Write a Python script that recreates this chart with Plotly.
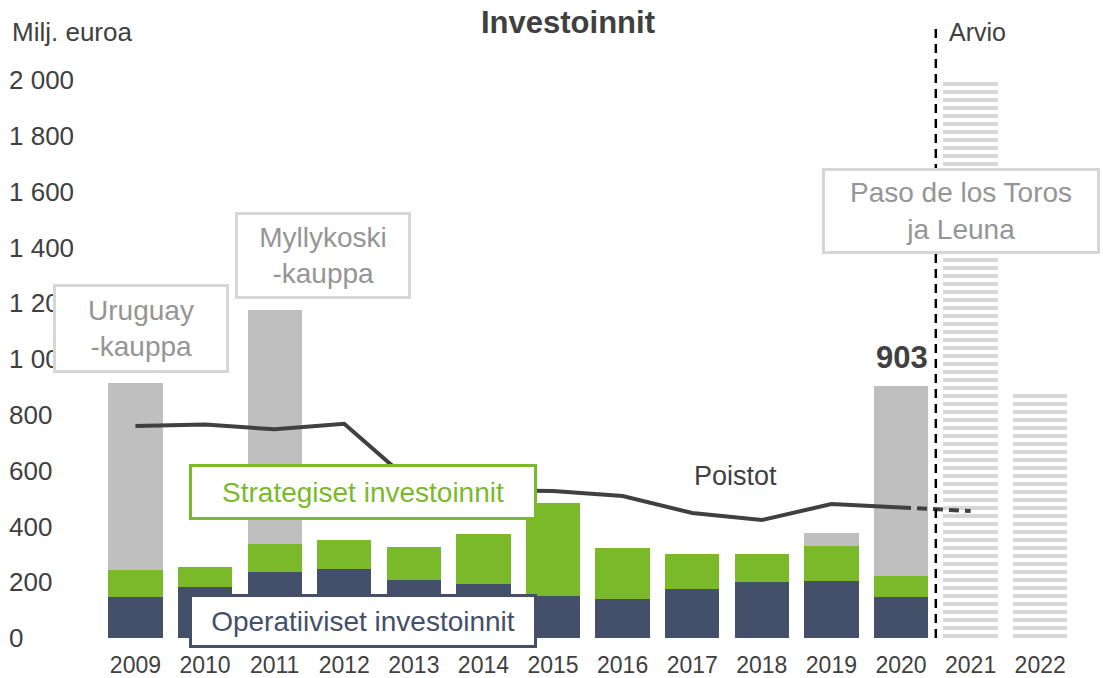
import plotly.graph_objects as go

years = ["2009", "2010", "2011", "2012", "2013", "2014", "2015", "2016",
         "2017", "2018", "2019", "2020", "2021", "2022"]
operative = [147, 183, 237, 247, 208, 194, 150, 140, 176, 201, 204, 147, None, None]
strategic = [97, 71, 100, 104, 118, 179, 334, 183, 125, 100, 126, 75, None, None]
other = [670, 0, 839, 0, 0, 0, 0, 0, 0, 0, 46, 681, None, None]
forecast = [None] * 12 + [2000, 890]
depreciation = [760, 765, 748, 768, 550, 530, 527, 509, 448, 423, 480, 468]
dep_forecast_years = ["2020", "2021"]
dep_forecast = [468, 455]
ytick_vals = [0, 200, 400, 600, 800, 1000, 1200, 1400, 1600, 1800, 2000]
ytick_text = ["0", "200", "400", "600", "800", "1 000", "1 200", "1 400", "1 600", "1 800", "2 000"]

NAVY = "#445069"
GREEN = "#7ab929"
GRAY = "#bfbfbf"
DARK = "#404040"
BOXGRAY = "#d6d6d6"
TXTGRAY = "#959595"
FONT = "Liberation Sans, Arial, sans-serif"

W, H = 1103, 678
ML, MR, MT, MB = 6, 28, 80, 40


def px(xp):
    return (xp - ML) / (W - ML - MR)


def py(yp):
    return (H - MB - yp) / (H - MT - MB)


fig = go.Figure()
fig.add_trace(go.Bar(x=years, y=operative, marker=dict(color=NAVY, line_width=0), name="Operatiiviset"))
fig.add_trace(go.Bar(x=years, y=strategic, marker=dict(color=GREEN, line_width=0), name="Strategiset"))
fig.add_trace(go.Bar(x=years, y=other, marker=dict(color=GRAY, line_width=0), name="Muut"))
fig.add_trace(go.Bar(x=years, y=forecast,
                     marker=dict(color="white", line_width=0,
                                 pattern=dict(shape="-", fgcolor="#b0b0b0", bgcolor="white",
                                              size=8, solidity=0.5, fillmode="overlay")),
                     name="Arvio"))
fig.add_trace(go.Scatter(x=years[:12], y=depreciation, mode="lines",
                         line=dict(color=DARK, width=4), name="Poistot"))
fig.add_trace(go.Scatter(x=dep_forecast_years, y=dep_forecast, mode="lines",
                         line=dict(color=DARK, width=4, dash="10px,6px"), name="Poistot arvio"))

fig.add_shape(type="line", xref="x", yref="paper", x0=11.5, x1=11.5, y0=0, y1=py(25),
              line=dict(color="black", width=2.5, dash="9px,6px"), layer="above")


def box(text, cx, cy, w, h, border, color, size=28):
    fig.add_annotation(xref="paper", yref="paper", x=px(cx), y=py(cy),
                       xanchor="center", yanchor="middle", showarrow=False,
                       text=text, width=w, height=h, bgcolor="white",
                       bordercolor=border, borderwidth=3, borderpad=0,
                       font=dict(family=FONT, size=size, color=color), align="center")


box("Uruguay<br>-kauppa", 141, 328.5, 170, 83, BOXGRAY, TXTGRAY)
box("Myllykoski<br>-kauppa", 323, 255.5, 170, 81, BOXGRAY, TXTGRAY)
box("Paso de los Toros<br>ja Leuna", 961, 211, 272, 80, BOXGRAY, TXTGRAY)
box("Strategiset investoinnit", 363, 492, 342, 50, GREEN, GREEN)
box("Operatiiviset investoinnit", 363, 621, 342, 48, NAVY, NAVY)

fig.add_annotation(xref="paper", yref="paper", x=px(10), y=py(32), xanchor="left", yanchor="middle",
                   showarrow=False, text="Milj. euroa", font=dict(family=FONT, size=26, color=DARK))
fig.add_annotation(xref="paper", yref="paper", x=px(947), y=py(32), xanchor="left", yanchor="middle",
                   showarrow=False, text="Arvio", font=dict(family=FONT, size=25, color=DARK))
fig.add_annotation(xref="paper", yref="paper", x=px(735), y=py(476), xanchor="center", yanchor="middle",
                   showarrow=False, text="Poistot", font=dict(family=FONT, size=27, color=DARK))
fig.add_annotation(xref="paper", yref="paper", x=px(902), y=py(357), xanchor="center", yanchor="middle",
                   showarrow=False, text="<b>903</b>", font=dict(family=FONT, size=31, color=DARK))
fig.add_annotation(xref="paper", yref="paper", x=px(568), y=py(22), xanchor="center", yanchor="middle",
                   showarrow=False, text="<b>Investoinnit</b>", font=dict(family=FONT, size=31, color=DARK))

fig.update_layout(
    width=W, height=H, barmode="stack", bargap=0.22, showlegend=False,
    margin=dict(l=ML, r=MR, t=MT, b=MB, autoexpand=False),
    plot_bgcolor="white", paper_bgcolor="white",
    font=dict(family=FONT, color=DARK),
    xaxis=dict(type="category", range=[-1.86, 13.5], showgrid=False, showline=False, ticks="",
               zeroline=False, ticklabelstandoff=11, automargin=False,
               tickfont=dict(family=FONT, size=23, color=DARK)),
    yaxis=dict(range=[0, 2000], tickvals=ytick_vals, ticktext=ytick_text, showgrid=False,
               zeroline=False, showline=False, ticks="", ticklabelposition="inside",
               ticklabeloverflow="allow", automargin=False,
               tickfont=dict(family=FONT, size=26, color=DARK)),
)

fig.write_html("out.html", config={"displayModeBar": False},
               post_script="document.body.style.margin='0';document.body.style.overflow='hidden';")
